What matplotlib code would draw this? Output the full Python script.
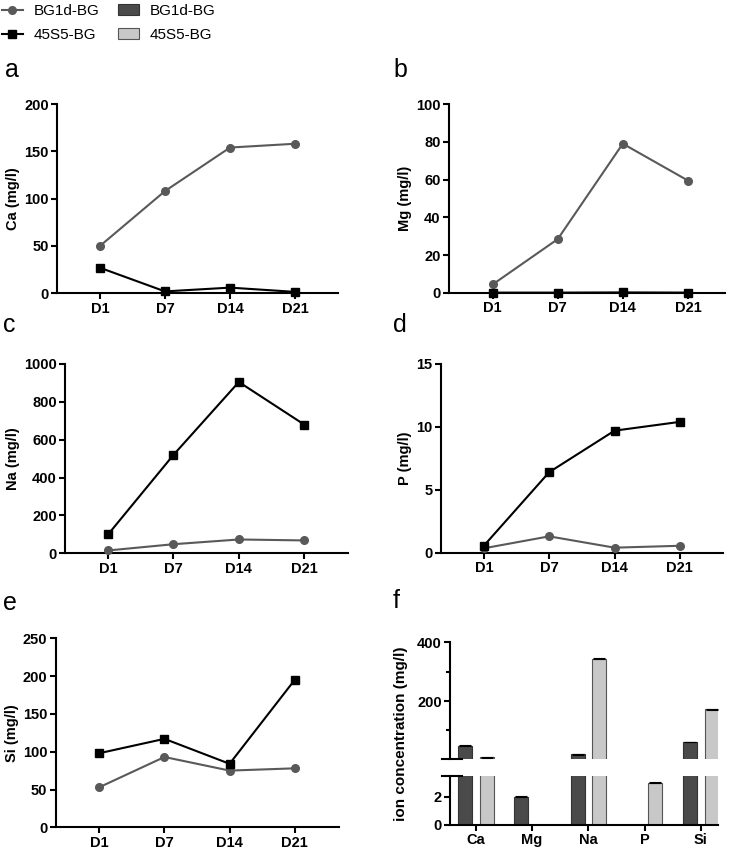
import numpy as np
import matplotlib
matplotlib.use("Agg")
import matplotlib.pyplot as plt
from matplotlib.ticker import FixedLocator

plt.rcParams['font.family'] = ['Liberation Sans', 'DejaVu Sans']

days = ['D1', 'D7', 'D14', 'D21']

# line panels: BG1d-BG (grey, circles) and 45S5-BG (black, squares)
ca_bg1d = [50, 108, 154, 158]
ca_45s5 = [27, 2, 6, 1.5]
mg_bg1d = [4.5, 28.5, 79, 59.5]
mg_45s5 = [0.2, 0.2, 0.3, 0.2]
na_bg1d = [15, 48, 73, 68]
na_45s5 = [100, 520, 905, 680]
p_bg1d = [0.35, 1.3, 0.4, 0.55]
p_45s5 = [0.55, 6.4, 9.7, 10.4]
si_bg1d = [53, 93, 75, 78]
si_45s5 = [98, 117, 84, 195]

# bar panel
ions = ['Ca', 'Mg', 'Na', 'P', 'Si']
bar_bg1d = [48, 2.0, 18, 0, 61]
bar_45s5 = [8, 0, 344, 3.0, 172]
err_bg1d = [0.8, 0.02, 0.5, 0, 0.8]
err_45s5 = [0.5, 0, 2.0, 0.04, 1.0]

GREY = '#595959'
DARK = '#4a4a4a'
LIGHT = '#c8c8c8'
W, H = 733, 852
FS = 10.5

fig = plt.figure(figsize=(W / 100, H / 100), dpi=100)


def px_axes(left, top, right, bottom):
    return fig.add_axes([left / W, 1 - bottom / H, (right - left) / W, (bottom - top) / H])


def style(ax):
    for s in ['top', 'right']:
        ax.spines[s].set_visible(False)
    for s in ['left', 'bottom']:
        ax.spines[s].set_linewidth(1.5)
    ax.tick_params(width=1.5, length=4, labelsize=FS, pad=2)
    for lab in ax.get_xticklabels() + ax.get_yticklabels():
        lab.set_fontweight('bold')


panels = [
    # (box px, xlim, bg1d, 45s5, ymax, ystep, label)
    ((57, 104, 338, 293.3), (-0.66, 3.66), ca_bg1d, ca_45s5, 200, 50, 'Ca (mg/l)'),
    ((449, 104, 725, 293), (-0.67, 3.57), mg_bg1d, mg_45s5, 100, 20, 'Mg (mg/l)'),
    ((65, 364, 348, 553.3), (-0.66, 3.67), na_bg1d, na_45s5, 1000, 200, 'Na (mg/l)'),
    ((440.7, 364, 723, 552.7), (-0.66, 3.66), p_bg1d, p_45s5, 15, 5, 'P (mg/l)'),
    ((55.7, 638.3, 339, 827.3), (-0.67, 3.68), si_bg1d, si_45s5, 250, 50, 'Si (mg/l)'),
]

line_handles = None
for box, xl, s1, s2, ymax, ystep, lab in panels:
    ax = px_axes(*box)
    x = np.arange(len(days))
    h1, = ax.plot(x, s1, color=GREY, lw=1.5, marker='o', ms=5.5, label='BG1d-BG',
                  clip_on=False, zorder=3)
    h2, = ax.plot(x, s2, color='black', lw=1.5, marker='s', ms=5.5, label='45S5-BG',
                  clip_on=False, zorder=4)
    if line_handles is None:
        line_handles = [h1, h2]
    ax.set_xlim(*xl)
    ax.set_ylim(0, ymax)
    ax.set_xticks(x)
    ax.set_xticklabels(days)
    ax.set_yticks(np.arange(0, ymax + ystep / 2, ystep))
    ax.set_ylabel(lab, fontsize=FS, fontweight='bold', labelpad=3)
    style(ax)

# panel f: broken y axis
xb = np.arange(len(ions))
off, bw = 0.19, 0.25
ax_top = px_axes(450, 642.3, 718.3, 758.7)
ax_bot = px_axes(450, 775.5, 718.3, 825)
ax_top.set_ylim(3.5, 400)
ax_bot.set_ylim(0, 3.5)
bar_handles = None
for ax in (ax_top, ax_bot):
    lo, hi = ax.get_ylim()
    h_bg1d = [v if v > lo else np.nan for v in bar_bg1d]
    h_45s5 = [v if v > lo else np.nan for v in bar_45s5]
    b1 = ax.bar(xb - off, h_bg1d, bw, color=DARK, edgecolor='#333333', lw=0.8,
                label='BG1d-BG')
    b2 = ax.bar(xb + off, h_45s5, bw, color=LIGHT, edgecolor='#555555', lw=0.8,
                label='45S5-BG')
    if bar_handles is None:
        bar_handles = [b1, b2]
    for xs, vals, errs in ((xb - off, bar_bg1d, err_bg1d), (xb + off, bar_45s5, err_45s5)):
        keep = [i for i, v in enumerate(vals) if lo < v <= hi]
        if keep:
            ax.errorbar(xs[keep], [vals[i] for i in keep], yerr=[errs[i] for i in keep],
                        fmt='none', ecolor='black', elinewidth=0.8, capsize=4,
                        capthick=0.8)
    ax.set_xlim(-0.46, 4.31)
ax_top.set_yticks([200, 400])
ax_top.yaxis.set_minor_locator(FixedLocator([100, 300]))
ax_top.spines['bottom'].set_visible(False)
ax_bot.set_yticks([0, 2])
ax_bot.set_xticks(xb)
ax_bot.set_xticklabels(ions)
style(ax_top)
style(ax_bot)
ax_top.tick_params(axis='x', bottom=False, labelbottom=False)
ax_top.tick_params(axis='y', which='minor', width=1.5, length=3)
# break marks at the segment ends
for ax, yv in ((ax_top, 0), (ax_bot, 1)):
    ax.plot([-0.03, 0.045], [yv, yv], transform=ax.transAxes, color='black',
            lw=1.5, clip_on=False)
fig.text(401 / W, 1 - 733.5 / H, 'ion concentration (mg/l)', rotation=90,
         ha='center', va='center', fontsize=11, fontweight='bold')

# panel letters
for letter, (lx, ly) in zip('abcdef', [(5, 77), (393, 77), (3, 332), (393, 332),
                                        (3, 610), (393, 608)]):
    fig.text(lx / W, 1 - ly / H, letter, fontsize=18, va='baseline', ha='left')

fig.legend(line_handles + bar_handles, ['BG1d-BG', '45S5-BG', 'BG1d-BG', '45S5-BG'],
           ncol=2, loc='upper left', bbox_to_anchor=(0.0, 0.997), frameon=False,
           fontsize=11, handlelength=1.4, handletextpad=0.7, columnspacing=1.2,
           labelspacing=0.65, borderaxespad=0, borderpad=0.1)

fig.savefig('out.png', dpi=100)
